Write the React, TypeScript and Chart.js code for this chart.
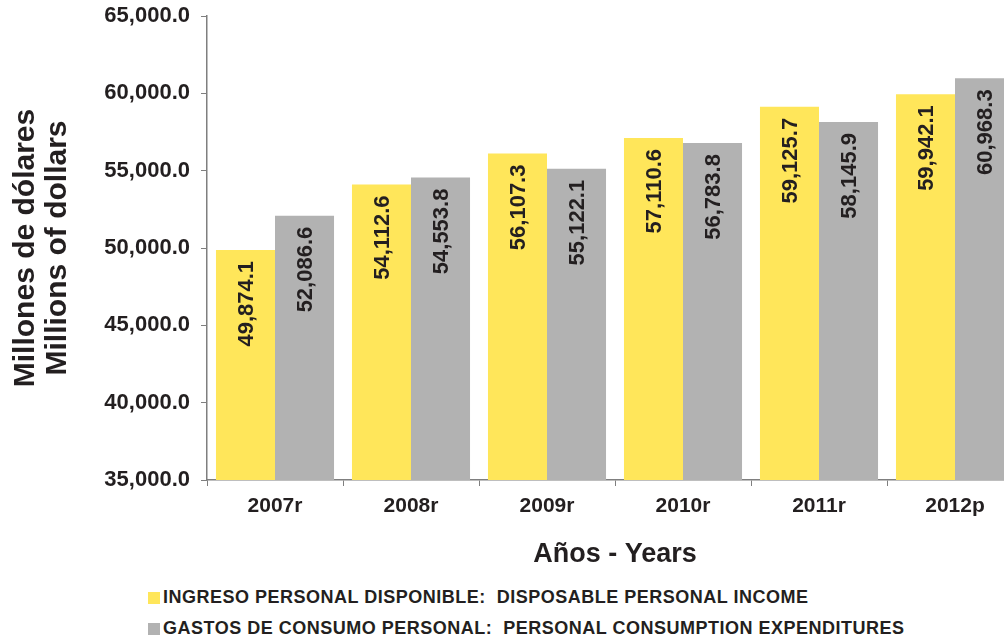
import React, { useEffect, useRef } from "react";
import { Chart, registerables } from "chart.js";

Chart.register(...registerables);

const years = ["2007r", "2008r", "2009r", "2010r", "2011r", "2012p"];
const incomeValues = [49874.1, 54112.6, 56107.3, 57110.6, 59125.7, 59942.1];
const consumptionValues = [52086.6, 54553.8, 55122.1, 56783.8, 58145.9, 60968.3];
const incomeLabel = "INGRESO PERSONAL DISPONIBLE:  DISPOSABLE PERSONAL INCOME";
const consumptionLabel = "GASTOS DE CONSUMO PERSONAL:  PERSONAL CONSUMPTION EXPENDITURES";
const yTitle = ["Millones de dólares", "Millions of dollars"];
const xTitle = "Años - Years";

const YELLOW = "#FFE65A";
const GRAY = "#B2B2B2";
const TEXT = "#231F20";
const AXIS = "#7F7F7F";
const FONT = "'Liberation Sans', Arial, Helvetica, sans-serif";

const fmt = (v: number) =>
  v.toLocaleString("en-US", { minimumFractionDigits: 1, maximumFractionDigits: 1 });

const labelPlugin = {
  id: "barLabels",
  afterDatasetsDraw(chart: any) {
    const ctx = chart.ctx;
    ctx.save();
    ctx.font = `bold 22px ${FONT}`;
    ctx.fillStyle = TEXT;
    chart.data.datasets.forEach((ds: any, di: number) => {
      const meta = chart.getDatasetMeta(di);
      meta.data.forEach((el: any, i: number) => {
        ctx.save();
        ctx.translate(el.x, el.y + 11);
        ctx.rotate(-Math.PI / 2);
        ctx.textAlign = "right";
        ctx.textBaseline = "middle";
        ctx.fillText(fmt(ds.data[i]), 0, 1);
        ctx.restore();
      });
    });
    ctx.restore();
  },
};

export default function App() {
  const ref = useRef<HTMLCanvasElement>(null);
  useEffect(() => {
    if (!ref.current) return;
    const chart = new Chart(ref.current, {
      type: "bar",
      data: {
        labels: years,
        datasets: [
          {
            label: incomeLabel,
            data: incomeValues,
            backgroundColor: YELLOW,
            categoryPercentage: 0.868,
            barPercentage: 1.0,
          },
          {
            label: consumptionLabel,
            data: consumptionValues,
            backgroundColor: GRAY,
            categoryPercentage: 0.868,
            barPercentage: 1.0,
          },
        ],
      },
      options: {
        animation: false,
        responsive: false,
        layout: { padding: { top: 16, left: 0, right: 7, bottom: 0 } },
        plugins: {
          legend: { display: false },
          tooltip: { enabled: false },
        },
        scales: {
          x: {
            afterFit(scale: any) {
              scale.height = 102;
            },
            grid: {
              display: true,
              drawOnChartArea: false,
              drawTicks: true,
              tickLength: 6,
              tickColor: AXIS,
              offset: true,
            },
            border: { display: true, color: AXIS, width: 1.5 },
            ticks: {
              color: TEXT,
              font: { family: FONT, size: 21, weight: "bold" },
              padding: 8,
              maxRotation: 0,
            },
            title: {
              display: true,
              text: xTitle,
              color: TEXT,
              font: { family: FONT, size: 27, weight: "bold" },
              padding: { top: 0, bottom: 11 },
            },
          },
          y: {
            min: 35000,
            max: 65000,
            afterFit(scale: any) {
              scale.width = 207;
              scale.paddingTop = 0;
              scale.paddingBottom = 0;
            },
            grid: {
              display: true,
              drawOnChartArea: false,
              drawTicks: true,
              tickLength: 6,
              tickColor: AXIS,
            },
            border: { display: true, color: AXIS, width: 1.5 },
            ticks: {
              stepSize: 5000,
              color: TEXT,
              font: { family: FONT, size: 22, weight: "bold" },
              padding: 11,
              callback: (v: any) => fmt(Number(v)),
            },
            title: {
              display: true,
              text: yTitle,
              color: TEXT,
              font: { family: FONT, size: 30, weight: "bold", lineHeight: 1.07 },
              padding: { top: 10, bottom: 0 },
            },
          },
        },
      },
      plugins: [labelPlugin],
    });
    return () => chart.destroy();
  }, []);

  const legendItems = [
    { color: YELLOW, text: incomeLabel },
    { color: GRAY, text: consumptionLabel },
  ];

  return (
    <div
      style={{
        position: "fixed",
        left: 0,
        top: 0,
        width: 1004,
        height: 641,
        overflow: "hidden",
        background: "#fff",
      }}
    >
      <canvas ref={ref} width={1030} height={582} style={{ display: "block" }} />
      <div style={{ position: "absolute", left: 148, top: 582 }}>
        {legendItems.map((it, i) => (
          <div
            key={i}
            style={{
              display: "flex",
              alignItems: "center",
              height: 31,
              fontFamily: FONT,
              fontWeight: "bold",
              fontSize: 18,
              letterSpacing: 0.5,
              color: TEXT,
              whiteSpace: "pre",
            }}
          >
            <span
              style={{
                display: "inline-block",
                width: 12,
                height: 12,
                background: it.color,
                marginRight: 3,
              }}
            />
            {it.text}
          </div>
        ))}
      </div>
    </div>
  );
}
